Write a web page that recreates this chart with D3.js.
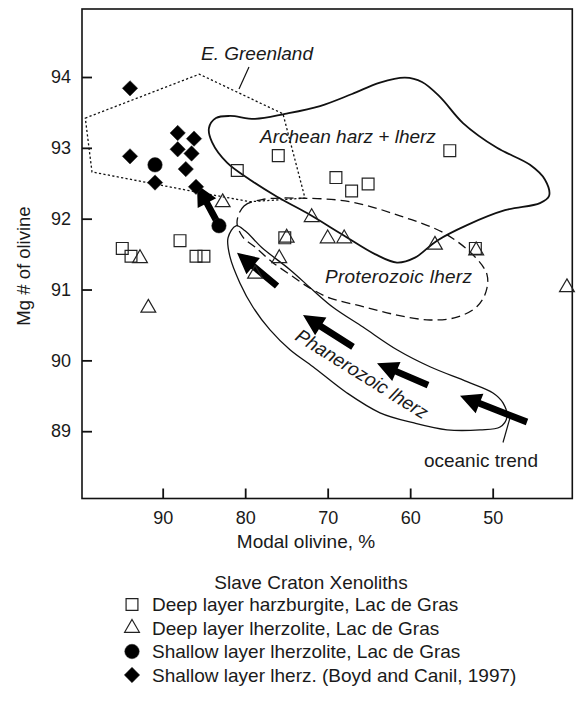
<!DOCTYPE html>
<html>
<head>
<meta charset="utf-8">
<script src="https://d3js.org/d3.v7.min.js"></script>
<style>
  body { margin: 0; background: #fff; }
  text { font-family: "Liberation Sans", Arial, Helvetica, sans-serif; fill: #1a1a1a; }
</style>
</head>
<body>
<svg id="chart" width="578" height="705"></svg>
<script>

// data: [modal olivine %, Mg# of olivine]
var deepHarz = [[94.9, 91.58], [93.84, 91.47], [87.9, 91.69], [85.96, 91.47], [85.0, 91.47],
  [80.96, 92.68], [75.99, 92.89], [75.2, 91.73], [69.0, 92.58], [67.1, 92.39], [65.1, 92.49],
  [55.2, 92.96], [52.1, 91.58]];
var deepLherz = [[92.75, 91.44], [91.74, 90.74], [82.73, 92.23], [78.8, 91.22], [75.87, 91.44],
  [74.97, 91.73], [71.94, 92.02], [70.0, 91.72], [68.0, 91.72], [57.0, 91.63], [52.0, 91.55],
  [41.0, 91.03]];
var shallowLherz = [[90.93, 92.76], [83.18, 91.9]];
var shallowBoyd = [[93.96, 93.84], [93.96, 92.88], [88.18, 93.21], [86.2, 93.13], [88.18, 92.98],
  [86.5, 92.92], [87.2, 92.7], [90.93, 92.51], [85.96, 92.45]];

// field outlines
var greenland = [[99.38, 93.42], [85.56, 94.04], [75.42, 93.48], [72.75, 92.29], [79.42, 92.24],
  [86.08, 92.38], [98.57, 92.66]];
var archean = [[84.39, 93.28], [83.54, 93.42], [81.84, 93.45], [78.81, 93.41], [75.17, 93.48],
  [70.93, 93.59], [67.05, 93.76], [63.66, 93.92], [60.63, 93.99], [58.57, 93.93], [56.39, 93.72],
  [53.6, 93.35], [49.48, 93.0], [45.48, 92.76], [43.66, 92.55], [43.17, 92.32], [44.27, 92.22],
  [48.51, 92.12], [53.11, 91.91], [56.75, 91.69], [59.42, 91.45], [61.6, 91.38], [64.27, 91.5],
  [68.14, 91.77], [72.51, 92.08], [76.14, 92.31], [79.42, 92.55], [82.2, 92.79], [84.02, 93.08]];
var proterozoic = [[80.99, 91.95], [80.14, 92.18], [77.96, 92.27], [73.36, 92.29], [67.3, 92.24],
  [61.24, 92.04], [55.78, 91.79], [52.14, 91.46], [50.69, 91.21], [50.81, 90.97], [51.9, 90.76],
  [54.33, 90.61], [57.6, 90.57], [61.6, 90.64], [65.72, 90.76], [69.72, 90.88], [72.14, 91.02],
  [74.57, 91.21], [76.75, 91.39], [78.81, 91.6], [80.27, 91.74]];
var phanerozoic = [[81.11, 91.9], [80.02, 91.83], [77.96, 91.59], [74.57, 91.28], [71.78, 90.99],
  [69.36, 90.75], [65.72, 90.47], [61.6, 90.15], [57.6, 89.91], [53.11, 89.7], [49.96, 89.54],
  [48.75, 89.4], [48.27, 89.2], [49.11, 89.06], [51.54, 89.02], [55.54, 89.02], [59.66, 89.12],
  [63.66, 89.26], [67.66, 89.54], [71.78, 89.91], [74.57, 90.15], [76.99, 90.43], [79.05, 90.75],
  [80.63, 91.09], [81.84, 91.46], [82.08, 91.73]];

// arrows: [tail, tip]
var arrows = [
  [[83.3, 91.93], [85.84, 92.48]],
  [[76.14, 91.05], [80.99, 91.52]],
  [[66.93, 90.19], [72.99, 90.64]],
  [[57.84, 89.65], [64.02, 89.96]],
  [[45.84, 89.13], [53.96, 89.5]]
];

var xTicks = [90, 80, 70, 60, 50];
var yTicks = [89, 90, 91, 92, 93, 94];
var legendNames = ["Deep layer harzburgite, Lac de Gras", "Deep layer lherzolite, Lac de Gras",
  "Shallow layer lherzolite, Lac de Gras", "Shallow layer lherz. (Boyd and Canil, 1997)"];

var svg = d3.select("#chart");

var x = d3.scaleLinear()
  .domain([99.78, 40.35])
  .range([82, 572.3]);
var y = d3.scaleLinear()
  .domain([88.05, 94.96])
  .range([498.5, 9]);

// Add X axis (ticks point inward)
var gx = svg.append("g")
  .attr("transform", "translate(0,498.5)")
  .call(d3.axisBottom(x).tickValues(xTicks).tickSize(-10).tickSizeOuter(0).tickFormat(d3.format("d")));
gx.select(".domain").remove();
gx.selectAll(".tick line").attr("stroke", "#111").attr("stroke-width", 1.8);
gx.selectAll(".tick text").attr("y", 13).attr("font-size", 18).attr("fill", "#1a1a1a");

// Add Y axis
var gy = svg.append("g")
  .attr("transform", "translate(82,0)")
  .call(d3.axisLeft(y).tickValues(yTicks).tickSize(-10).tickSizeOuter(0).tickFormat(d3.format("d")));
gy.select(".domain").remove();
gy.selectAll(".tick line").attr("stroke", "#111").attr("stroke-width", 1.8);
gy.selectAll(".tick text").attr("x", -11).attr("font-size", 18).attr("fill", "#1a1a1a");

// frame
svg.append("rect")
  .attr("x", x.range()[0]).attr("y", y.range()[1])
  .attr("width", x.range()[1] - x.range()[0])
  .attr("height", y.range()[0] - y.range()[1])
  .attr("fill", "none").attr("stroke", "#111").attr("stroke-width", 1.6);

// axis titles
svg.append("text")
  .attr("x", 306).attr("y", 548)
  .attr("text-anchor", "middle").attr("font-size", 19)
  .text("Modal olivine, %");
svg.append("text")
  .attr("transform", "translate(30,266) rotate(-90)")
  .attr("text-anchor", "middle").attr("font-size", 18.5)
  .text("Mg # of olivine");

var plot = svg.append("g");

var fieldLine = d3.line()
  .x(function (d) { return x(d[0]); })
  .y(function (d) { return y(d[1]); })
  .curve(d3.curveCatmullRomClosed.alpha(0.5));

// E. Greenland field (dotted polygon)
plot.append("path")
  .attr("d", d3.line().x(function (d) { return x(d[0]); }).y(function (d) { return y(d[1]); })
    .curve(d3.curveLinearClosed)(greenland))
  .attr("fill", "none").attr("stroke", "#111").attr("stroke-width", 1.3)
  .attr("stroke-dasharray", "2.2,2.3");

plot.append("path").attr("d", fieldLine(archean))
  .attr("fill", "none").attr("stroke", "#111").attr("stroke-width", 1.8);
plot.append("path").attr("d", fieldLine(proterozoic))
  .attr("fill", "none").attr("stroke", "#111").attr("stroke-width", 1.3)
  .attr("stroke-dasharray", "9,5");
plot.append("path").attr("d", fieldLine(phanerozoic))
  .attr("fill", "none").attr("stroke", "#111").attr("stroke-width", 1.3);

// leader lines
var leaders = [[[79.54, 94.14], [80.75, 93.83]], [[47.9, 89.19], [48.75, 88.84]]];
plot.selectAll(".leader").data(leaders).join("line")
  .attr("class", "leader")
  .attr("x1", function (d) { return x(d[0][0]); }).attr("y1", function (d) { return y(d[0][1]); })
  .attr("x2", function (d) { return x(d[1][0]); }).attr("y2", function (d) { return y(d[1][1]); })
  .attr("stroke", "#111").attr("stroke-width", 1.2);

// field labels
plot.append("text").attr("x", x(78.57)).attr("y", y(94.24))
  .attr("text-anchor", "middle").attr("font-size", 19).attr("font-style", "italic")
  .text("E. Greenland");
plot.append("text").attr("x", x(78.2)).attr("y", y(93.07))
  .attr("font-size", 19).attr("font-style", "italic")
  .text("Archean harz + lherz");
plot.append("text").attr("x", x(70.33)).attr("y", y(91.09))
  .attr("font-size", 19).attr("font-style", "italic")
  .attr("textLength", 147).attr("lengthAdjust", "spacing")
  .text("Proterozoic lherz");
plot.append("text")
  .attr("transform", "translate(" + x(65.84) + "," + y(89.81) + ") rotate(32)")
  .attr("text-anchor", "middle").attr("dy", "0.35em")
  .attr("font-size", 19).attr("font-style", "italic")
  .text("Phanerozoic lherz");
plot.append("text").attr("x", x(51.42)).attr("y", y(88.5))
  .attr("text-anchor", "middle").attr("font-size", 19)
  .text("oceanic trend");

// thick arrows
function arrowPath(d) {
  var x1 = x(d[0][0]), y1 = y(d[0][1]), x2 = x(d[1][0]), y2 = y(d[1][1]);
  var L = Math.hypot(x2 - x1, y2 - y1), ux = (x2 - x1) / L, uy = (y2 - y1) / L;
  var nx = -uy, ny = ux, hl = 21, hw = 10.5, sw = 3.4;
  var bx = x2 - ux * hl, by = y2 - uy * hl;
  var p = [[x1 + nx * sw, y1 + ny * sw], [bx + nx * sw, by + ny * sw], [bx + nx * hw, by + ny * hw],
    [x2, y2], [bx - nx * hw, by - ny * hw], [bx - nx * sw, by - ny * sw], [x1 - nx * sw, y1 - ny * sw]];
  return "M" + p.map(function (q) { return q[0].toFixed(1) + "," + q[1].toFixed(1); }).join("L") + "Z";
}
plot.selectAll(".arrow").data(arrows).join("path")
  .attr("class", "arrow")
  .attr("d", arrowPath)
  .attr("fill", "#000");

// points
var marks = [
  { data: deepHarz, sym: d3.symbol(d3.symbolSquare, 140), fill: "none", rot: 0 },
  { data: deepLherz, sym: d3.symbol(d3.symbolTriangle, 95), fill: "none", rot: 0 },
  { data: shallowLherz, sym: d3.symbol(d3.symbolCircle, 165), fill: "#000", rot: 0 },
  { data: shallowBoyd, sym: d3.symbol(d3.symbolSquare, 118), fill: "#000", rot: 45 }
];
marks.forEach(function (m) {
  plot.append("g").selectAll("path")
    .data(m.data)
    .join("path")
    .attr("transform", function (d) { return "translate(" + x(d[0]) + "," + y(d[1]) + ") rotate(" + m.rot + ")"; })
    .attr("d", m.sym)
    .attr("fill", m.fill)
    .attr("stroke", "#222")
    .attr("stroke-width", m.fill === "none" ? 1.2 : 0.5);
});

// legend
svg.append("text")
  .attr("x", 311).attr("y", 589)
  .attr("text-anchor", "middle").attr("font-size", 19)
  .text("Slave Craton Xenoliths");
var leg = svg.append("g").selectAll("g")
  .data(legendNames)
  .join("g")
  .attr("transform", function (d, i) { return "translate(0," + (611 + i * 23.5) + ")"; });
leg.append("path")
  .attr("transform", function (d, i) { return "translate(132,-6.5) rotate(" + marks[i].rot + ")"; })
  .attr("d", function (d, i) { return marks[i].sym(); })
  .attr("fill", function (d, i) { return marks[i].fill; })
  .attr("stroke", "#222")
  .attr("stroke-width", function (d, i) { return marks[i].fill === "none" ? 1.2 : 0.5; });
leg.append("text")
  .attr("x", 152)
  .attr("font-size", 19)
  .text(function (d) { return d; });

</script>
</body>
</html>
